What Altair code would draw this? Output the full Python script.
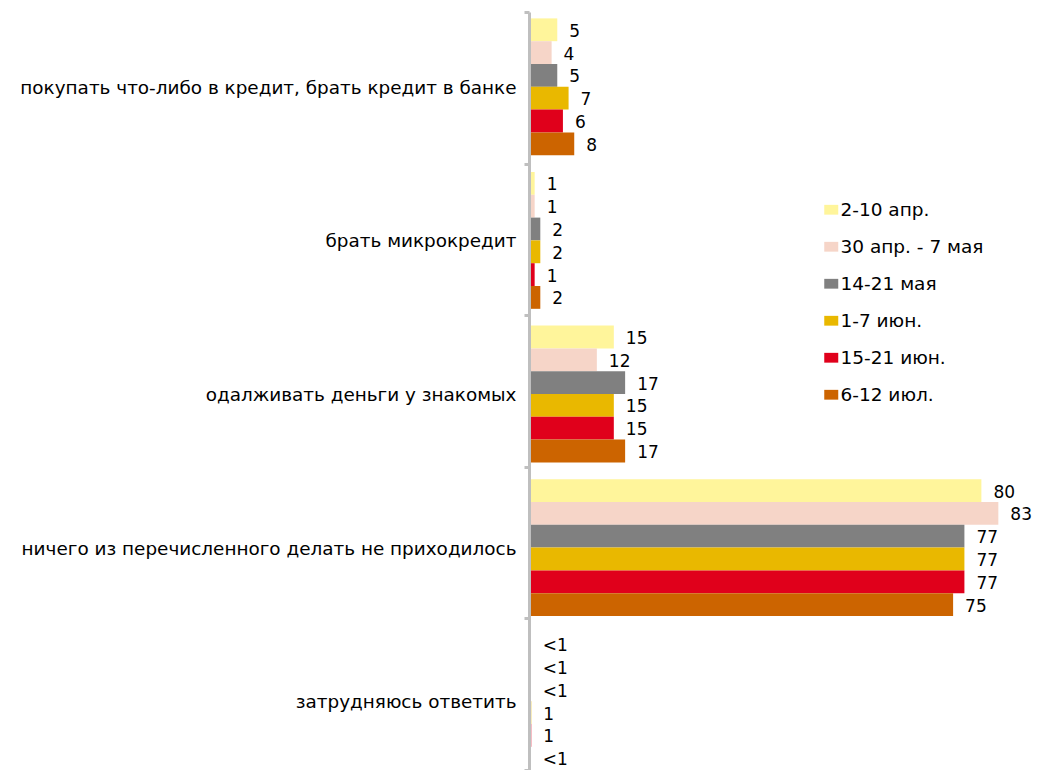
import altair as alt
import pandas as pd

categories = [
    "покупать что-либо в кредит, брать кредит в банке",
    "брать микрокредит",
    "одалживать деньги у знакомых",
    "ничего из перечисленного делать не приходилось",
    "затрудняюсь ответить",
]
series = ["2-10 апр.", "30 апр. - 7 мая", "14-21 мая", "1-7 июн.", "15-21 июн.", "6-12 июл."]
colors = ["#FFF59B", "#F6D5C8", "#808080", "#E9B800", "#E0001B", "#CC6400"]

# bar values (tiny values for "<1")
apr_2_10 = [5, 1, 15, 80, 0.3]
apr30_may7 = [4, 1, 12, 83, 0.3]
may_14_21 = [5, 2, 17, 77, 0.3]
jun_1_7 = [7, 2, 15, 77, 0.4]
jun_15_21 = [6, 1, 15, 77, 0.4]
jul_6_12 = [8, 2, 17, 75, 0.3]

# printed labels
lab_apr_2_10 = ["5", "1", "15", "80", "<1"]
lab_apr30_may7 = ["4", "1", "12", "83", "<1"]
lab_may_14_21 = ["5", "2", "17", "77", "<1"]
lab_jun_1_7 = ["7", "2", "15", "77", "1"]
lab_jun_15_21 = ["6", "1", "15", "77", "1"]
lab_jul_6_12 = ["8", "2", "17", "75", "<1"]

values = [apr_2_10, apr30_may7, may_14_21, jun_1_7, jun_15_21, jul_6_12]
labels = [lab_apr_2_10, lab_apr30_may7, lab_may_14_21, lab_jun_1_7, lab_jun_15_21, lab_jul_6_12]

rows = []
for s, vals, labs in zip(series, values, labels):
    for c, v, l in zip(categories, vals, labs):
        rows.append({"cat": c, "ser": s, "val": v, "lab": l})
df = pd.DataFrame(rows)
cat_df = pd.DataFrame({"cat": categories})

FONT = "DejaVu Sans"
GRAY = "#BFBFBF"
PLOT_W = 488
PLOT_H = 758

# axis layer: domain line and tick marks between categories
axis_layer = alt.Chart(cat_df).mark_point(opacity=0).encode(
    y=alt.Y(
        "cat:N",
        sort=categories,
        title=None,
        scale=alt.Scale(paddingInner=0, paddingOuter=0),
        axis=alt.Axis(
            orient="left",
            labels=False,
            tickSize=5,
            tickWidth=3,
            tickColor=GRAY,
            tickBand="extent",
            domainColor=GRAY,
            domainWidth=3,
            zindex=1,
            grid=False,
        ),
    )
)

# bars & labels: groups are spaced slightly wider than the tick intervals
y = alt.Y(
    "cat:N",
    sort=categories,
    title=None,
    scale=alt.Scale(paddingInner=0, paddingOuter=0, range=[-2, 766]),
    axis=alt.Axis(
        orient="left",
        domain=False,
        ticks=False,
        labelFont=FONT,
        labelFontSize=18.4,
        labelColor="#000000",
        labelPadding=13,
        labelLimit=0,
        labelBaseline="middle",
        labelOffset=1,
        grid=False,
    ),
)
yoff = alt.YOffset("ser:N", sort=series, scale=alt.Scale(paddingInner=0, paddingOuter=0.368))
x = alt.X("val:Q", scale=alt.Scale(domain=[0, 86.3], nice=False, zero=True), axis=None)

bars = alt.Chart(df).mark_bar().encode(
    x=x,
    y=y,
    yOffset=yoff,
    color=alt.Color(
        "ser:N",
        sort=series,
        scale=alt.Scale(domain=series, range=colors),
        legend=alt.Legend(
            title=None,
            orient="none",
            legendX=293,
            legendY=188.5,
            symbolType="M-1,-0.7H1V0.7H-1Z",
            symbolSize=196,
            symbolStrokeWidth=0,
            symbolOpacity=1,
            labelFont=FONT,
            labelFontSize=18.5,
            labelColor="#000000",
            labelOffset=0,
            rowPadding=18,
            padding=0,
        ),
    ),
)

text = alt.Chart(df).mark_text(
    align="left", baseline="middle", dx=12, dy=2, fontSize=17, font=FONT, color="#000000"
).encode(x=x, y=y, yOffset=yoff, text="lab:N")

chart = (
    alt.layer(axis_layer, alt.layer(bars, text))
    .resolve_scale(y="independent")
    .properties(
        width=PLOT_W,
        height=PLOT_H,
        padding={"left": 521, "top": 4, "right": 15, "bottom": 0},
        autosize=alt.AutoSizeParams(type="none"),
    )
    .configure_view(stroke=None)
)

chart.save("out.html", embed_options={"renderer": "svg", "actions": False})
